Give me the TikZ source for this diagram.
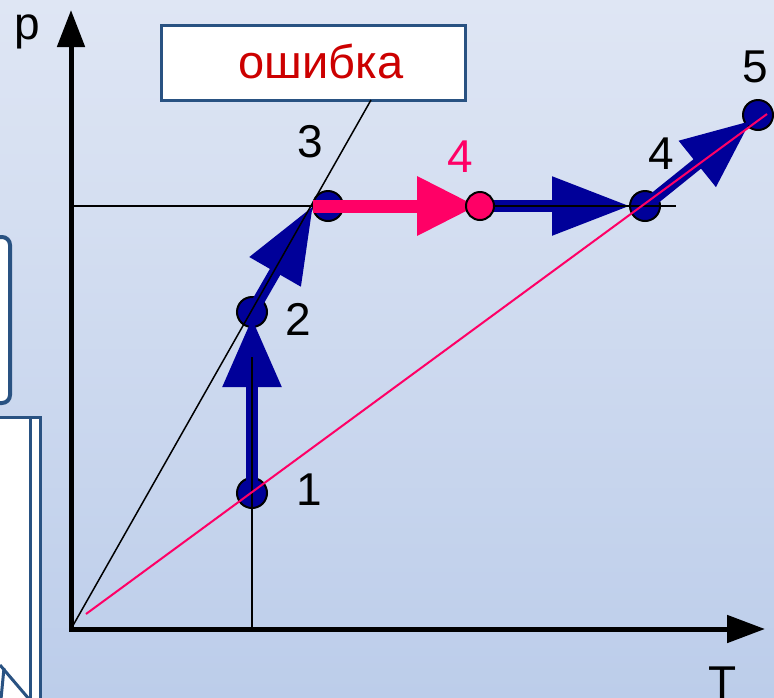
\documentclass[tikz,border=0pt]{standalone}
\usepackage{fontspec}
\setmainfont{Liberation Sans}
\usetikzlibrary{arrows.meta}
\definecolor{navy}{RGB}{0,0,153}
\definecolor{hot}{RGB}{255,0,102}
\definecolor{errred}{RGB}{204,0,0}
\definecolor{boxblue}{RGB}{41,82,130}
\definecolor{bgtop}{RGB}{223,230,244}
\definecolor{bgbot}{RGB}{188,205,234}
\begin{document}
\begin{tikzpicture}[x=1pt,y=-1pt,
  dot/.style={circle,draw=black,line width=2pt,fill=navy,minimum size=30pt,inner sep=0pt},
  pdot/.style={dot,fill=hot,minimum size=28pt},
  bigarrow/.style={line width=12pt,draw=navy,-{Triangle[length=#1,width=56pt]}},
  pinkarrow/.style={line width=13pt,draw=hot,-{Triangle[length=#1,width=56pt]}},
  thin/.style={line width=1.5pt,draw=black},
  lab/.style={font=\fontsize{46}{50}\selectfont,anchor=base,inner sep=0pt},
  sidebox/.style={draw=boxblue,fill=white}
]
\useasboundingbox (0,0) rectangle (774,697);
\clip (0,0) rectangle (774,697);
% background
\shade[top color=bgtop,bottom color=bgbot] (0,0) rectangle (774,697);
% left boxes (partly outside the picture)
\draw[sidebox,line width=4pt,rounded corners=8pt] (-30,237) rectangle (10,403);
\fill[white] (-5,417) rectangle (40,705);
\draw[boxblue,line width=3pt] (-5,417) -- (40,417) -- (40,705);
\draw[boxblue,line width=3pt] (30,418) -- (30,705);
\draw[boxblue,line width=3pt] (0,665) -- (29,699);
\draw[boxblue,line width=3pt] (4,668) -- (1,699);
% error box
\node[draw=boxblue,line width=3pt,fill=white,minimum width=304pt,minimum height=75pt,inner sep=0pt] (err) at (313,62.5) {};
\node[lab,text=errred,font=\fontsize{47}{50}\selectfont] (errtxt) at (321,78) {ошибка};
% coordinates
\coordinate (O) at (71,629);
\coordinate (yTip) at (71,10);
\coordinate (xTip) at (765,629);
\coordinate (P1) at (252,493);
\coordinate (P2) at (252,312);
\coordinate (P3) at (328,206);
\coordinate (C3) at (313,206);
\coordinate (P4p) at (480,206);
\coordinate (P4) at (645,206);
\coordinate (P5) at (758,115);
\coordinate (isoTop) at (371,100);
\coordinate (hEnd) at (676,206);
\coordinate (vTop) at (252,357);
\coordinate (vBot) at (252,629);
\coordinate (pinkA) at (86,614);
\coordinate (pinkB) at (767,114);
% axes
\draw[line width=5pt,line join=miter,{Triangle[length=37pt,width=27pt]}-{Triangle[length=38pt,width=27pt]}] (yTip) |- (xTip);
% blue dots
\node[dot] (n1) at (P1) {};
\node[dot] (n2) at (P2) {};
\node[dot] (n3) at (P3) {};
\node[dot] (n4) at (P4) {};
\node[dot] (n5) at (P5) {};
% blue arrows
\draw[bigarrow=69pt,shorten >=6pt] (n1.center) -- (n2.center);
\draw[bigarrow=76pt] (n2.center) -- (C3);
\draw[bigarrow=78pt,shorten >=15pt] (P4p) -- (n4.center);
\draw[bigarrow=69pt,shorten >=9pt] (n4.center) -- (n5.center);
% thin lines
\draw[thin] (O) -- (isoTop);
\draw[thin] (O |- C3) -- (hEnd);
\draw[thin] (vTop) -- (vBot);
\draw[hot,line width=2pt] (pinkA) -- (pinkB);
% pink arrow and dot
\draw[pinkarrow=60pt,shorten >=3pt] (C3) -- (P4p);
\node[pdot] (n4p) at (P4p) {};
% labels
\node[lab] (tp) at (27,39) {p};
\node[lab] (tT) at (723,698) {T};
\node[lab] (l1) at (309,505) {1};
\node[lab] (l2) at (298,335) {2};
\node[lab] (l3) at (310,157) {3};
\node[lab,text=hot] (l4p) at (460,172) {4};
\node[lab] (l4) at (661,169) {4};
\node[lab] (l5) at (755,82) {5};
\end{tikzpicture}
\end{document}
